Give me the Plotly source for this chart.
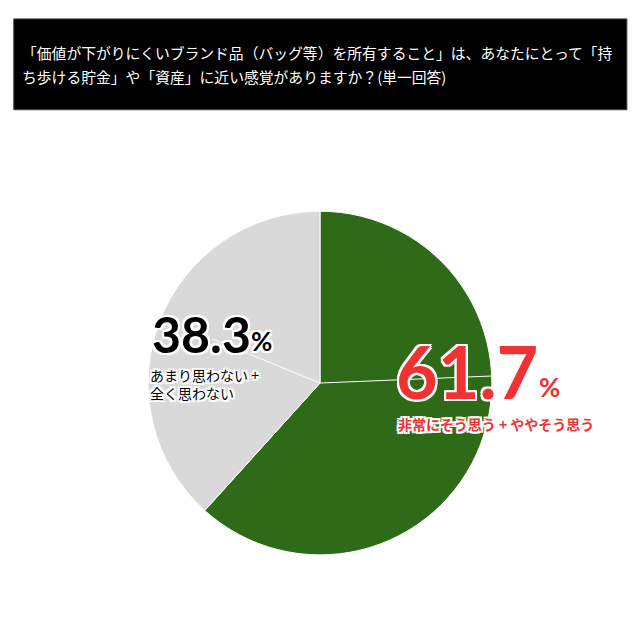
"""
Pie chart: ownership of brand goods as 'portable savings' (single answer).
"""

import plotly.graph_objects as go

# Data
CATEGORIES = ["非常にそう思う + ややそう思う", "あまり思わない + 全く思わない"]
VALUES = [61.7, 38.3]
COLORS = ["#2f6a19", "#d9d9d9"]

TITLE_LINES = [
    "「価値が下がりにくいブランド品（バッグ等）を所有すること」は、あなたにとって「持",
    "ち歩ける貯金」や「資産」に近い感覚がありますか？(単一回答)",
]
LEFT_LABEL_LINES = ["あまり思わない +", "全く思わない"]

FONT = "Noto Sans CJK JP"
NUM_FONT = "Lato"
RED = "#f03232"

# white outline via text-shadow
OUTLINE = ", ".join(
    f"{dx}px {dy}px 0 #ffffff"
    for dx in (-2, 0, 2)
    for dy in (-2, 0, 2)
    if (dx, dy) != (0, 0)
)


def text(fig, x, y, s, size, color, family=FONT, shadow=OUTLINE):
    fig.add_annotation(
        x=x, y=y, xref="paper", yref="paper",
        xanchor="left", yanchor="middle", align="left", showarrow=False,
        text=s,
        font=dict(family=family, size=size, color=color, shadow=shadow),
    )


fig = go.Figure()

fig.add_trace(
    go.Pie(
        labels=CATEGORIES,
        values=VALUES,
        marker=dict(colors=COLORS, line=dict(color="#ffffff", width=1)),
        sort=False,
        direction="clockwise",
        rotation=0,
        textinfo="none",
        hoverinfo="label+value",
        showlegend=False,
        domain=dict(x=[0.219, 0.756], y=[0.145, 0.683]),
    )
)

# header box
fig.add_shape(
    type="rect", xref="paper", yref="paper",
    x0=0.009, x1=0.967, y0=0.841, y1=0.983,
    fillcolor="#000000", line=dict(color="#444444", width=1), layer="below",
)
text(fig, 0.019, 0.930, TITLE_LINES[0], 14.8, "#ffffff", shadow="none")
text(fig, 0.019, 0.893, TITLE_LINES[1], 14.8, "#ffffff", shadow="none")

# leader lines
fig.add_shape(type="line", xref="paper", yref="paper",
              x0=0.4875, y0=0.414, x1=0.756, y1=0.425,
              line=dict(color="#ffffff", width=1))
fig.add_shape(type="line", xref="paper", yref="paper",
              x0=0.4875, y0=0.414, x1=0.319, y1=0.483,
              line=dict(color="#ffffff", width=1))

# right slice label
text(fig, 0.603, 0.433, f"<b>{VALUES[0]}</b>", 72, RED, family=NUM_FONT)
text(fig, 0.826, 0.408, "<b>%</b>", 26, RED, family=NUM_FONT)
text(fig, 0.607, 0.350, f"<b>{CATEGORIES[0]}</b>", 14, RED)

# left slice label
text(fig, 0.222, 0.491, f"<b>{VALUES[1]}</b>", 50, "#000000", family=NUM_FONT)
text(fig, 0.376, 0.479, "<b>%</b>", 26, "#000000", family=NUM_FONT)
text(fig, 0.219, 0.412, "<br>".join(LEFT_LABEL_LINES), 14, "#000000")

fig.update_layout(
    width=640,
    height=640,
    margin=dict(l=0, r=0, t=0, b=0),
    paper_bgcolor="#ffffff",
    plot_bgcolor="#ffffff",
    font=dict(family=FONT),
)

fig.write_html("out.html")
